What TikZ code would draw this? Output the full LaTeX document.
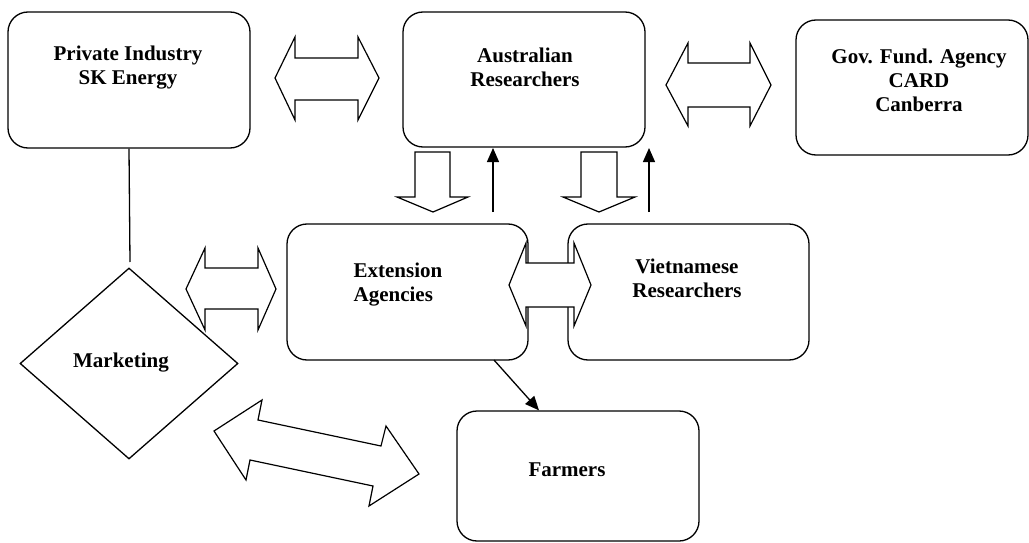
\documentclass[tikz,border=0pt]{standalone}
\usepackage{fontspec}
\setmainfont{Liberation Serif}
\usetikzlibrary{arrows.meta,shapes.geometric}
\begin{document}
\begin{tikzpicture}[x=1pt,y=-1pt,
  box/.style={draw,line width=1.3pt,rounded corners=20pt,inner sep=0pt},
  lbl/.style={font=\fontsize{21}{24}\selectfont\bfseries,align=center,inner sep=0pt},
  blk/.style={draw,line width=1.2pt,fill=white,line join=miter},
  thinarrow/.style={line width=1.3pt,-{Triangle[length=14pt,width=12pt]}},
  plain/.style={line width=1.3pt}]
\useasboundingbox (0,0) rectangle (1029,543);

% boxes
\node[box,minimum width=242pt,minimum height=136pt] (priv) at (129,80) {};
\node[box,minimum width=242pt,minimum height=135pt] (aus) at (524,79.5) {};
\node[box,minimum width=232pt,minimum height=135pt] (gov) at (912,87.5) {};
\node[box,minimum width=241pt,minimum height=136pt] (ext) at (407.5,292) {};
\node[box,minimum width=241pt,minimum height=136pt] (viet) at (688.5,292) {};
\node[box,minimum width=242pt,minimum height=130pt] (farm) at (578,476) {};
\node[draw,line width=1.3pt,shape=diamond,inner sep=0pt,minimum width=218pt,minimum height=191pt] (mkt) at (129,363.5) {};

% labels
\node[lbl] (privt) at (128,68) {Private Industry\\SK Energy};
\node[lbl] (aust) at (525,67) {Australian\\Researchers};
\node[lbl] (govt) at (919,80) {Gov. Fund. Agency\\CARD\\Canberra};
\node[lbl,align=left] (extt) at (398,285) {Extension\\Agencies};
\node[lbl] (viett) at (687,278) {Vietnamese\\Researchers};
\node[lbl] (mktt) at (121,363) {Marketing};
\node[lbl] (farmt) at (567,470) {Farmers};

% connectors
\coordinate (mkttop) at (130,262);
\draw[plain] (priv.south) -- (mkttop);

\coordinate (up1s) at (493,212);
\coordinate (up1e) at (493,148);
\coordinate (up2s) at (649,212);
\coordinate (up2e) at (649,148);
\draw[thinarrow] (up1s) -- (up1e);
\draw[thinarrow] (up2s) -- (up2e);
\coordinate (ef) at (494,360);
\draw[thinarrow] (ef) -- (farm.north -| 539,0);

% block arrows
\draw[blk] (275,78) -- (295,37) -- (295,58) -- (358,58) -- (358,37) -- (379,78) -- (358,120) -- (358,100) -- (295,100) -- (295,120) -- cycle;
\draw[blk] (666,85) -- (688,43) -- (688,63) -- (750,63) -- (750,43) -- (771,85) -- (750,126) -- (750,107) -- (688,107) -- (688,126) -- cycle;
\draw[blk] (186,289) -- (205,248) -- (205,268) -- (258,268) -- (258,248) -- (276,289) -- (258,330) -- (258,309) -- (205,309) -- (205,330) -- cycle;
\draw[blk] (509,285) -- (526,243) -- (526,263) -- (574,263) -- (574,243) -- (591,285) -- (574,326) -- (574,307) -- (526,307) -- (526,326) -- cycle;
\draw[blk] (415,152) -- (450,152) -- (450,197) -- (468,197) -- (433,212) -- (397,197) -- (415,197) -- cycle;
\draw[blk] (581,152) -- (617,152) -- (617,197) -- (635,197) -- (599,212) -- (563,197) -- (581,197) -- cycle;
\draw[blk] (214,431) -- (262,400) -- (258,420) -- (381,446) -- (386,426) -- (419,474) -- (369,506) -- (373,486) -- (250,460) -- (246,480) -- cycle;
\end{tikzpicture}
\end{document}
